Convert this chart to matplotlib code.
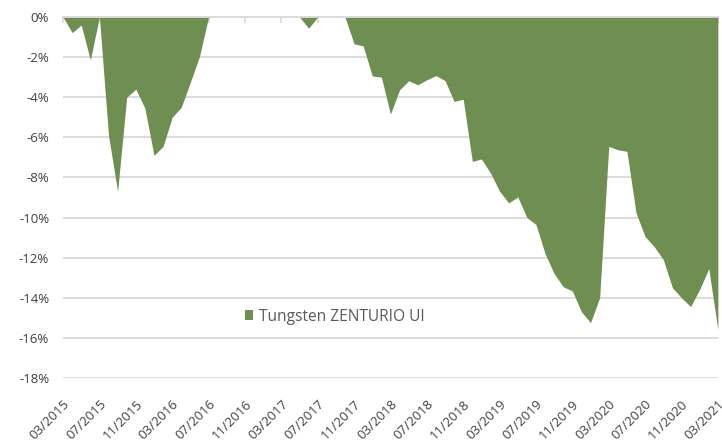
# Drawdown chart: Tungsten ZENTURIO UI, monthly, 03/2015 - 03/2021

import matplotlib
matplotlib.use("Agg")
import matplotlib.pyplot as plt
from matplotlib.ticker import FuncFormatter

plt.rcParams['font.family'] = ['Open Sans', 'DejaVu Sans']

series_name = "Tungsten ZENTURIO UI"
start_year, start_month = 2015, 3

# drawdown in percent, one value per month starting 03/2015
drawdown = [
    0.0, -0.78, -0.40, -2.14, 0.0, -5.9, -8.7, -4.0, -3.6, -4.55,
    -6.9, -6.45, -5.0, -4.5, -3.25, -1.97, 0.0, 0.0, 0.0, 0.0,
    0.0, 0.0, 0.0, 0.0, 0.0, 0.0, 0.0, -0.56, 0.0, 0.0,
    0.0, 0.0, -1.34, -1.44, -2.94, -3.0, -4.84, -3.63, -3.18, -3.38,
    -3.13, -2.92, -3.17, -4.21, -4.1, -7.2, -7.08, -7.78, -8.69, -9.27,
    -8.97, -10.0, -10.35, -11.8, -12.8, -13.45, -13.66, -14.7, -15.24, -14.0,
    -6.45, -6.62, -6.7, -9.77, -10.95, -11.45, -12.1, -13.5, -14.0, -14.44,
    -13.58, -12.55, -15.6,
]

months = list(range(len(drawdown)))


def month_label(m):
    total = start_month - 1 + m
    return "%02d/%d" % (total % 12 + 1, start_year + total // 12)


tick_pos = months[::4]
tick_labels = [month_label(m) for m in tick_pos]

fig = plt.figure(figsize=(7.22, 4.46), dpi=100)
ax = fig.add_axes([0.0873, 0.1525, 0.907, 0.8094])

color = "#6E8E52"
ax.fill_between(months, drawdown, 0, color=color, linewidth=0, label=series_name)

ax.set_xlim(0, months[-1])
ax.set_ylim(-18, 0)
ax.set_yticks(range(-18, 1, 2))
ax.yaxis.set_major_formatter(FuncFormatter(lambda v, p: "%d%%" % v))
ax.grid(axis="y", color="#D9D9D9", linewidth=1.3)
ax.set_axisbelow(True)

for side in ["left", "right", "bottom"]:
    ax.spines[side].set_visible(False)
ax.spines["top"].set_color("#D9D9D9")
ax.spines["top"].set_linewidth(1.3)

ax.set_xticks(tick_pos)
ax.set_xticklabels(tick_labels, rotation=45, ha="right", rotation_mode="anchor")
ax.tick_params(axis="x", pad=14, labelsize=9.5, labelcolor="#404040")
ax.tick_params(axis="x", top=True, bottom=False, direction="in",
               length=4, width=1.2, color="#D9D9D9")
ax.tick_params(axis="y", length=0, pad=10, labelsize=9.5, labelcolor="#404040")

leg = ax.legend(loc="center left", bbox_to_anchor=(0.256, 0.17), frameon=False,
                fontsize=11.2, handlelength=0.55, handleheight=0.55, handletextpad=0.35)
for t in leg.get_texts():
    t.set_color("#595959")

fig.savefig("out.png", dpi=100)
